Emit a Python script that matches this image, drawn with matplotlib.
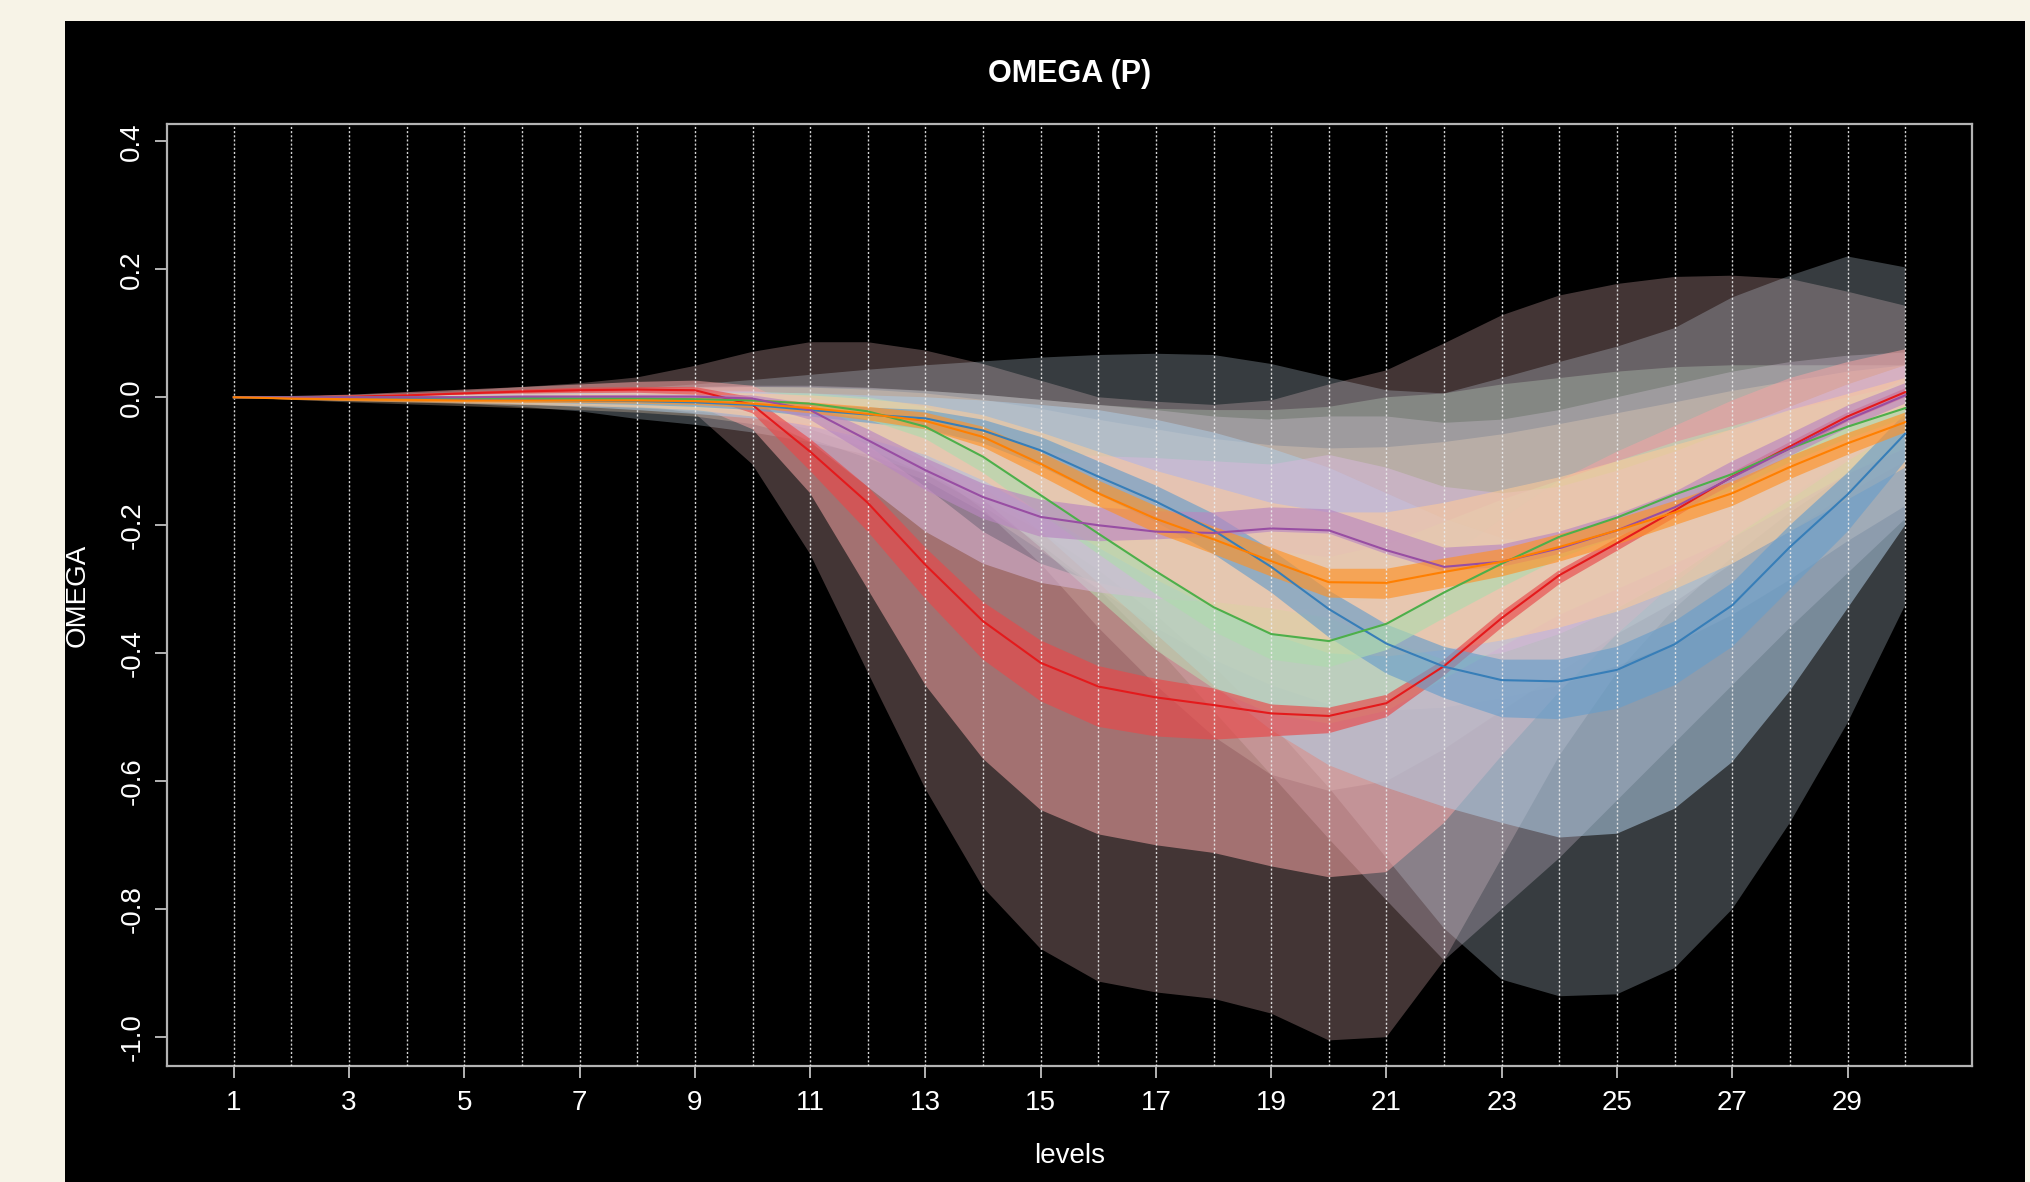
import matplotlib
matplotlib.use("Agg")
import matplotlib.pyplot as plt
import numpy as np

plt.rcParams['font.family'] = ['Liberation Sans', 'DejaVu Sans']
plt.rcParams['axes.unicode_minus'] = False

# ---------------- data ----------------
levels = list(range(1, 31))
xtick_vals = list(range(1, 30, 2))
ytick_vals = [0.4, 0.2, 0.0, -0.2, -0.4, -0.6, -0.8, -1.0]
ytick_labels = ["0.4", "0.2", "0.0", "-0.2", "-0.4", "-0.6", "-0.8", "-1.0"]
title = "OMEGA (P)"
xlabel = "levels"
ylabel = "OMEGA"

series_names = ["red", "blue", "green", "purple", "orange"]

red_med = [0.000, 0.000, 0.001, 0.003, 0.006, 0.009, 0.011, 0.012, 0.011, -0.012, -0.085, -0.165, -0.262, -0.350, -0.415, -0.452, -0.469, -0.481, -0.494, -0.498, -0.478, -0.420, -0.345, -0.278, -0.228, -0.177, -0.124, -0.077, -0.030, 0.008]
red_in_lo = [0.000, 0.000, 0.000, 0.002, 0.004, 0.006, 0.007, 0.007, 0.004, -0.025, -0.115, -0.210, -0.315, -0.410, -0.475, -0.515, -0.530, -0.535, -0.530, -0.525, -0.500, -0.435, -0.360, -0.292, -0.240, -0.188, -0.134, -0.086, -0.038, 0.000]
red_in_hi = [0.000, 0.001, 0.002, 0.005, 0.008, 0.012, 0.015, 0.016, 0.016, 0.000, -0.065, -0.140, -0.235, -0.320, -0.380, -0.420, -0.440, -0.455, -0.480, -0.485, -0.465, -0.410, -0.335, -0.270, -0.220, -0.170, -0.117, -0.070, -0.024, 0.014]
red_mid_lo = [0.000, 0.000, 0.000, 0.000, -0.001, -0.002, -0.004, -0.006, -0.012, -0.050, -0.150, -0.300, -0.450, -0.565, -0.645, -0.683, -0.700, -0.712, -0.733, -0.750, -0.742, -0.665, -0.560, -0.460, -0.370, -0.290, -0.220, -0.155, -0.095, -0.045]
red_mid_hi = [0.000, 0.002, 0.004, 0.008, 0.012, 0.016, 0.020, 0.024, 0.026, 0.018, -0.025, -0.075, -0.140, -0.210, -0.260, -0.290, -0.310, -0.320, -0.330, -0.330, -0.310, -0.255, -0.190, -0.130, -0.085, -0.045, -0.005, 0.030, 0.055, 0.075]
red_out_lo = [0.000, 0.000, -0.001, -0.002, -0.003, -0.005, -0.008, -0.012, -0.025, -0.105, -0.245, -0.430, -0.612, -0.766, -0.862, -0.913, -0.930, -0.940, -0.963, -1.005, -1.000, -0.880, -0.720, -0.560, -0.430, -0.330, -0.250, -0.180, -0.120, -0.070]
red_out_hi = [0.000, 0.001, 0.003, 0.006, 0.010, 0.016, 0.022, 0.031, 0.049, 0.071, 0.086, 0.086, 0.073, 0.052, 0.026, 0.000, -0.007, -0.012, -0.005, 0.020, 0.042, 0.084, 0.128, 0.159, 0.177, 0.188, 0.190, 0.185, 0.165, 0.143]

blue_med = [0.000, 0.000, -0.001, -0.002, -0.003, -0.004, -0.005, -0.006, -0.008, -0.012, -0.020, -0.027, -0.033, -0.052, -0.083, -0.124, -0.163, -0.208, -0.265, -0.331, -0.385, -0.421, -0.442, -0.444, -0.426, -0.386, -0.325, -0.234, -0.152, -0.057]
blue_in_lo = [0.000, -0.001, -0.002, -0.004, -0.006, -0.008, -0.010, -0.012, -0.015, -0.020, -0.030, -0.040, -0.050, -0.072, -0.108, -0.152, -0.195, -0.245, -0.305, -0.375, -0.432, -0.470, -0.500, -0.503, -0.487, -0.450, -0.390, -0.300, -0.210, -0.100]
blue_in_hi = [0.000, 0.001, 0.001, 0.001, 0.001, 0.000, 0.000, 0.000, -0.002, -0.005, -0.010, -0.016, -0.020, -0.035, -0.062, -0.100, -0.138, -0.182, -0.238, -0.302, -0.355, -0.390, -0.410, -0.410, -0.390, -0.350, -0.290, -0.200, -0.118, -0.025]
blue_mid_lo = [0.000, -0.001, -0.003, -0.005, -0.008, -0.011, -0.015, -0.020, -0.026, -0.033, -0.042, -0.060, -0.090, -0.140, -0.210, -0.290, -0.370, -0.450, -0.520, -0.575, -0.610, -0.640, -0.665, -0.688, -0.682, -0.643, -0.570, -0.459, -0.330, -0.200]
blue_mid_hi = [0.000, 0.001, 0.002, 0.003, 0.004, 0.005, 0.006, 0.007, 0.008, 0.008, 0.006, 0.003, 0.000, -0.005, -0.012, -0.020, -0.035, -0.055, -0.080, -0.110, -0.150, -0.190, -0.220, -0.230, -0.215, -0.180, -0.130, -0.070, -0.020, 0.030]
blue_out_lo = [0.000, -0.001, -0.003, -0.005, -0.010, -0.015, -0.022, -0.034, -0.043, -0.055, -0.070, -0.090, -0.120, -0.160, -0.210, -0.270, -0.340, -0.420, -0.510, -0.610, -0.720, -0.830, -0.910, -0.936, -0.933, -0.892, -0.800, -0.665, -0.509, -0.325]
blue_out_hi = [0.000, 0.001, 0.002, 0.003, 0.005, 0.007, 0.010, 0.014, 0.020, 0.027, 0.035, 0.043, 0.050, 0.056, 0.062, 0.066, 0.068, 0.066, 0.052, 0.031, 0.011, 0.006, 0.030, 0.055, 0.079, 0.108, 0.156, 0.190, 0.220, 0.203]

green_med = [0.000, 0.000, 0.000, 0.000, -0.001, -0.001, -0.002, -0.002, -0.003, -0.005, -0.010, -0.022, -0.046, -0.093, -0.153, -0.213, -0.272, -0.328, -0.370, -0.381, -0.354, -0.305, -0.260, -0.218, -0.188, -0.152, -0.120, -0.080, -0.046, -0.017]
green_in_lo = [0.000, 0.000, -0.001, -0.001, -0.002, -0.003, -0.004, -0.005, -0.006, -0.010, -0.018, -0.035, -0.065, -0.118, -0.182, -0.245, -0.308, -0.366, -0.410, -0.422, -0.395, -0.345, -0.297, -0.252, -0.218, -0.180, -0.145, -0.102, -0.065, -0.033]
green_in_hi = [0.000, 0.000, 0.000, 0.000, -0.001, -0.001, -0.002, -0.002, -0.003, -0.005, -0.010, -0.022, -0.046, -0.093, -0.153, -0.213, -0.272, -0.328, -0.370, -0.381, -0.354, -0.305, -0.260, -0.218, -0.188, -0.152, -0.120, -0.080, -0.046, -0.017]
green_mid_lo = [0.000, -0.001, -0.002, -0.003, -0.005, -0.007, -0.009, -0.012, -0.016, -0.022, -0.035, -0.060, -0.100, -0.160, -0.235, -0.315, -0.395, -0.455, -0.495, -0.510, -0.490, -0.440, -0.390, -0.340, -0.300, -0.260, -0.220, -0.170, -0.120, -0.080]
green_mid_hi = [0.000, 0.001, 0.002, 0.003, 0.004, 0.005, 0.006, 0.007, 0.008, 0.008, 0.006, 0.000, -0.015, -0.045, -0.085, -0.130, -0.170, -0.210, -0.240, -0.250, -0.230, -0.195, -0.160, -0.130, -0.100, -0.070, -0.045, -0.020, 0.000, 0.020]
green_out_lo = [0.000, -0.001, -0.003, -0.005, -0.007, -0.010, -0.013, -0.017, -0.022, -0.030, -0.045, -0.070, -0.110, -0.175, -0.260, -0.360, -0.450, -0.530, -0.590, -0.615, -0.600, -0.550, -0.490, -0.430, -0.370, -0.320, -0.260, -0.210, -0.150, -0.100]
green_out_hi = [0.000, 0.001, 0.003, 0.005, 0.007, 0.009, 0.011, 0.013, 0.015, 0.016, 0.016, 0.014, 0.010, 0.004, -0.004, -0.012, -0.018, -0.020, -0.020, -0.015, 0.000, 0.006, 0.020, 0.030, 0.040, 0.047, 0.050, 0.050, 0.050, 0.050]

purple_med = [0.000, 0.000, 0.000, 0.000, 0.000, 0.001, 0.001, 0.001, 0.001, -0.002, -0.020, -0.067, -0.114, -0.156, -0.187, -0.200, -0.210, -0.212, -0.205, -0.208, -0.239, -0.265, -0.257, -0.236, -0.208, -0.172, -0.125, -0.080, -0.035, 0.003]
purple_in_lo = [0.000, 0.000, -0.001, -0.001, -0.001, -0.001, -0.001, -0.002, -0.003, -0.010, -0.035, -0.090, -0.145, -0.190, -0.218, -0.225, -0.222, -0.218, -0.210, -0.213, -0.245, -0.272, -0.265, -0.245, -0.218, -0.183, -0.137, -0.092, -0.048, -0.010]
purple_in_hi = [0.000, 0.000, 0.001, 0.001, 0.002, 0.003, 0.003, 0.004, 0.004, 0.003, -0.010, -0.050, -0.095, -0.135, -0.160, -0.172, -0.178, -0.180, -0.172, -0.175, -0.205, -0.235, -0.230, -0.210, -0.183, -0.148, -0.100, -0.057, -0.013, 0.022]
purple_mid_lo = [0.000, -0.001, -0.002, -0.003, -0.004, -0.005, -0.006, -0.008, -0.012, -0.025, -0.070, -0.140, -0.210, -0.260, -0.290, -0.305, -0.315, -0.320, -0.330, -0.345, -0.380, -0.410, -0.400, -0.370, -0.330, -0.280, -0.220, -0.160, -0.100, -0.045]
purple_mid_hi = [0.000, 0.001, 0.002, 0.003, 0.004, 0.005, 0.006, 0.008, 0.010, 0.010, 0.000, -0.020, -0.045, -0.070, -0.085, -0.092, -0.095, -0.100, -0.105, -0.090, -0.110, -0.140, -0.150, -0.140, -0.115, -0.085, -0.050, -0.015, 0.020, 0.050]
purple_out_lo = [0.000, -0.001, -0.002, -0.004, -0.006, -0.008, -0.011, -0.015, -0.020, -0.030, -0.050, -0.080, -0.120, -0.170, -0.230, -0.300, -0.390, -0.490, -0.590, -0.690, -0.786, -0.880, -0.800, -0.720, -0.630, -0.540, -0.450, -0.360, -0.275, -0.190]
purple_out_hi = [0.000, 0.001, 0.002, 0.004, 0.006, 0.008, 0.010, 0.013, 0.016, 0.018, 0.018, 0.015, 0.010, 0.004, -0.004, -0.012, -0.020, -0.030, -0.035, -0.030, -0.030, -0.040, -0.035, -0.020, 0.000, 0.020, 0.040, 0.055, 0.065, 0.070]

orange_med = [0.000, -0.002, -0.003, -0.004, -0.005, -0.005, -0.005, -0.005, -0.006, -0.010, -0.017, -0.026, -0.037, -0.062, -0.104, -0.150, -0.190, -0.222, -0.256, -0.289, -0.290, -0.273, -0.257, -0.234, -0.208, -0.180, -0.150, -0.109, -0.072, -0.039]
orange_in_lo = [0.000, -0.004, -0.006, -0.007, -0.008, -0.009, -0.009, -0.010, -0.012, -0.017, -0.025, -0.036, -0.050, -0.078, -0.123, -0.170, -0.212, -0.245, -0.280, -0.313, -0.315, -0.298, -0.280, -0.257, -0.230, -0.200, -0.170, -0.128, -0.090, -0.055]
orange_in_hi = [0.000, 0.000, -0.001, -0.001, -0.001, -0.001, -0.001, -0.001, -0.001, -0.003, -0.008, -0.015, -0.024, -0.046, -0.086, -0.130, -0.170, -0.202, -0.235, -0.268, -0.268, -0.252, -0.237, -0.214, -0.190, -0.162, -0.132, -0.092, -0.056, -0.024]
orange_mid_lo = [0.000, -0.003, -0.006, -0.008, -0.010, -0.012, -0.014, -0.016, -0.020, -0.030, -0.045, -0.065, -0.090, -0.130, -0.180, -0.235, -0.285, -0.330, -0.370, -0.400, -0.405, -0.395, -0.380, -0.360, -0.335, -0.300, -0.260, -0.210, -0.160, -0.110]
orange_mid_hi = [0.000, 0.000, 0.001, 0.002, 0.003, 0.004, 0.005, 0.006, 0.007, 0.006, 0.003, -0.003, -0.012, -0.028, -0.055, -0.085, -0.115, -0.140, -0.165, -0.180, -0.180, -0.165, -0.145, -0.125, -0.100, -0.075, -0.050, -0.020, 0.005, 0.030]
orange_out_lo = [0.000, -0.004, -0.008, -0.011, -0.014, -0.017, -0.020, -0.024, -0.030, -0.042, -0.065, -0.095, -0.130, -0.180, -0.240, -0.300, -0.360, -0.410, -0.450, -0.480, -0.490, -0.485, -0.470, -0.450, -0.420, -0.385, -0.340, -0.285, -0.225, -0.170]
orange_out_hi = [0.000, 0.001, 0.003, 0.005, 0.007, 0.009, 0.011, 0.013, 0.015, 0.016, 0.015, 0.012, 0.006, -0.004, -0.018, -0.035, -0.050, -0.065, -0.075, -0.080, -0.078, -0.070, -0.058, -0.042, -0.025, -0.008, 0.010, 0.025, 0.040, 0.050]

# ---------------- style ----------------
W, H, DPI = 2030, 1182, 100
base_colors = {"red": "#E41A1C", "blue": "#377EB8", "green": "#4DAF4A",
               "purple": "#984EA3", "orange": "#FF7F00"}
inner_tint = {"red": 0.2, "blue": 0.25, "green": 0.55, "purple": 0.32, "orange": 0.15}
series = {
    "red": (red_med, red_in_lo, red_in_hi, red_mid_lo, red_mid_hi, red_out_lo, red_out_hi),
    "blue": (blue_med, blue_in_lo, blue_in_hi, blue_mid_lo, blue_mid_hi, blue_out_lo, blue_out_hi),
    "green": (green_med, green_in_lo, green_in_hi, green_mid_lo, green_mid_hi, green_out_lo, green_out_hi),
    "purple": (purple_med, purple_in_lo, purple_in_hi, purple_mid_lo, purple_mid_hi, purple_out_lo, purple_out_hi),
    "orange": (orange_med, orange_in_lo, orange_in_hi, orange_mid_lo, orange_mid_hi, orange_out_lo, orange_out_hi),
}


def tint(hexcol, f):
    c = np.array(matplotlib.colors.to_rgb(hexcol))
    return tuple(c + (1 - c) * f)


fig = plt.figure(figsize=(W / DPI, H / DPI), dpi=DPI, facecolor="#F7F3E7")
# black panel behind everything
bg = fig.add_axes([65 / W, 0, (2025 - 65) / W, (H - 21) / H], zorder=-10)
bg.set_facecolor("black")
bg.set_xticks([])
bg.set_yticks([])
for sp in bg.spines.values():
    sp.set_visible(False)

ax = fig.add_axes([167 / W, 1 - 1066 / H, (1972 - 167) / W, (1066 - 124) / H], zorder=1)
ax.set_facecolor("black")
ax.set_xlim(-0.16, 31.16)
ax.set_ylim(-1.045, 0.427)

x = np.array(levels)
# outer bands
for name in series_names:
    d = series[name]
    ax.fill_between(x, d[5], d[6], facecolor=tint(base_colors[name], 0.75),
                    alpha=0.27, linewidth=0, zorder=2)
# middle bands
for name in series_names:
    d = series[name]
    ax.fill_between(x, d[3], d[4], facecolor=tint(base_colors[name], 0.6),
                    alpha=0.55, linewidth=0, zorder=3)
# inner bands
for name in series_names:
    d = series[name]
    ax.fill_between(x, d[1], d[2], facecolor=tint(base_colors[name], inner_tint[name]),
                    alpha=0.65, linewidth=0, zorder=4)

# vertical dashed guides
for lv in levels:
    ax.axvline(lv, color="#EDEDED", linewidth=1.0, linestyle=(0, (1.5, 1.5)),
               alpha=0.9, zorder=5)

# median lines
for name in series_names:
    ax.plot(x, series[name][0], color=base_colors[name], linewidth=1.5, zorder=6)

# axes styling
for sp in ax.spines.values():
    sp.set_color("#B4B4B4")
    sp.set_linewidth(1.6)
ax.set_xticks(xtick_vals)
ax.set_xticklabels([str(v) for v in xtick_vals])
ax.set_yticks(ytick_vals)
ax.set_yticklabels(ytick_labels, rotation=90, va="center")
ax.tick_params(axis="both", colors="#B4B4B4", length=8.6, width=1.4,
               labelcolor="white", labelsize=20)
ax.tick_params(axis="x", pad=9)
ax.tick_params(axis="y", pad=7)

ax.set_title(title, color="white", fontsize=22, fontweight="bold",
             y=(1066 - 82) / (1066 - 124), va="center")
ax.set_xlabel(xlabel, color="white", fontsize=20, va="center")
ax.xaxis.set_label_coords(0.5, (1066 - 1156) / (1066 - 124))
ax.set_ylabel(ylabel, color="white", fontsize=20, va="center")
ax.yaxis.set_label_coords((78 - 167) / (1972 - 167), 0.5)

fig.savefig("out.png", dpi=DPI, facecolor=fig.get_facecolor())
